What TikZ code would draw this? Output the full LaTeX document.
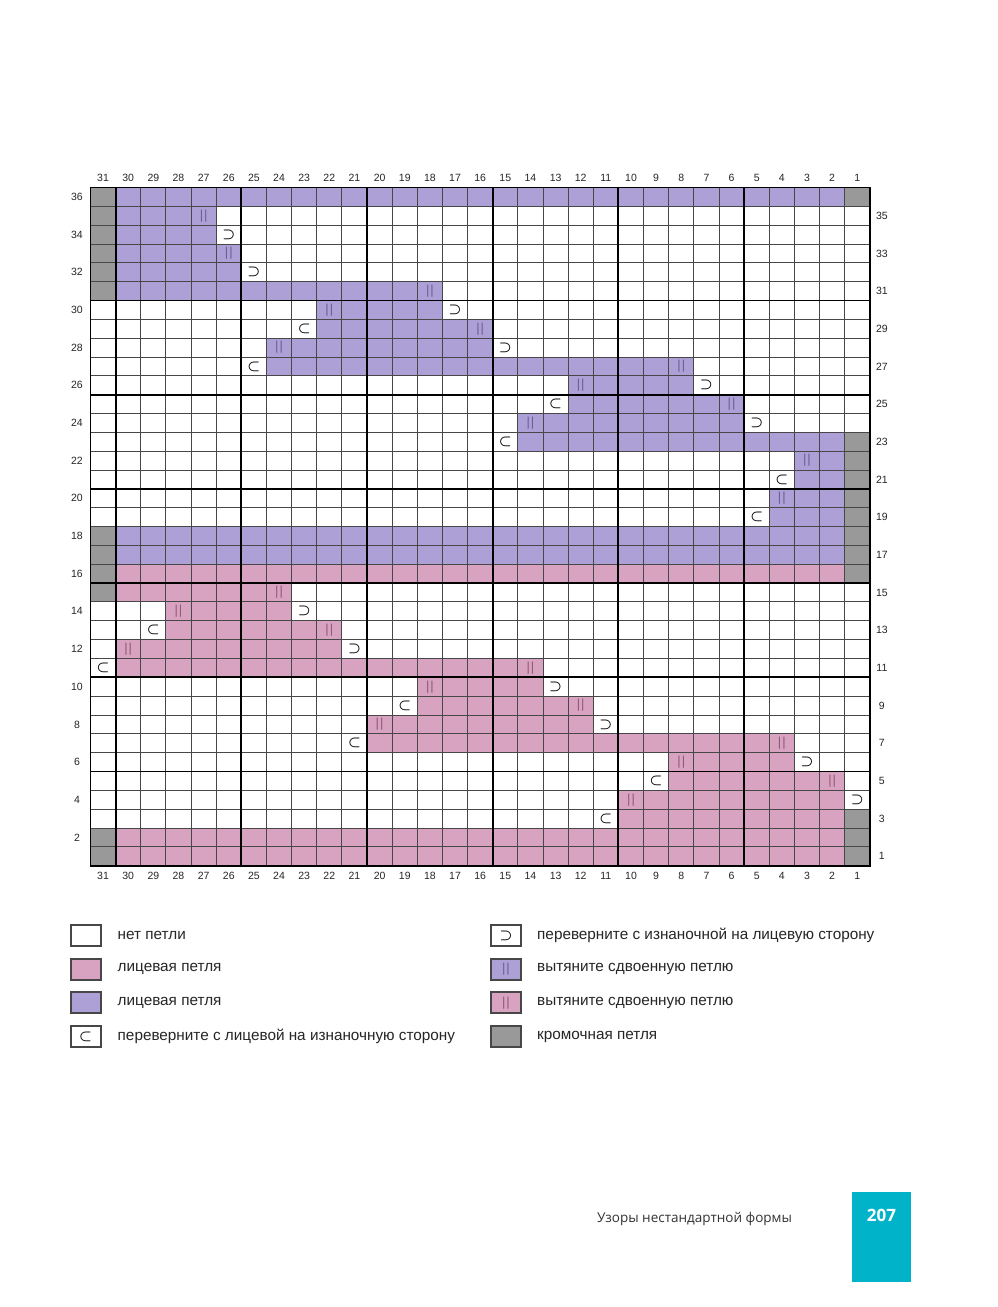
\documentclass[tikz,border=0pt]{standalone}
\usepackage{fontspec}
\usepackage{amsmath}
\setmainfont{Liberation Sans}
\newfontfamily\footfont{Open Sans}
\usetikzlibrary{positioning}

\definecolor{lilac}{RGB}{172,160,214}
\definecolor{lilacdark}{RGB}{108,94,148}
\definecolor{rose}{RGB}{216,163,193}
\definecolor{rosedark}{RGB}{146,88,118}
\definecolor{selvgray}{RGB}{153,153,153}
\definecolor{pageblue}{RGB}{0,179,200}

\newcommand{\turnin}{{\boldmath$\subset$}}
\newcommand{\turnout}{{\boldmath$\supset$}}
\newcommand{\dblbar}{|\kern1pt|}

\tikzset{
  gridnum/.style={font=\fontsize{10.5}{12}\selectfont, text=black!85, inner sep=0pt},
  thinline/.style={draw=black!72, line width=0.9pt},
  thickline/.style={draw=black, line width=1.9pt},
  turn/.style={font=\fontsize{15.5}{15.5}\selectfont, inner sep=0pt},
  dbl/.style={font=\fontsize{13}{13}\selectfont, inner sep=0pt, text=#1},
  keybox/.style={draw=black!72, line width=2pt, minimum width=30pt,
    minimum height=21pt, inner sep=0pt, font=\fontsize{15.5}{15.5}\selectfont},
  keytext/.style={font=\fontsize{15.3}{18}\selectfont, text=black!85, inner sep=0pt},
}

\begin{document}
\begin{tikzpicture}[x=1pt,y=-1pt]
  \useasboundingbox (0,0) rectangle (997,1307);
  \fill[white] (0,0) rectangle (997,1307);

  % chart: column c, row r -> cell ({31-c},r-1) .. ({32-c},r)
  \begin{scope}[shift={(90.5pt,-865.7pt)}, x=25.14pt, y=18.84pt]
    \foreach \r/\a/\b in {36/30/2, 35/30/27, 34/30/27, 33/30/26, 32/30/26,
        31/30/18, 30/22/18, 29/22/16, 28/24/16, 27/24/8, 26/12/8, 25/12/6,
        24/14/6, 23/14/2, 22/3/2, 21/3/2, 20/4/2, 19/4/2, 18/30/2, 17/30/2}
      \fill[lilac] ({31-\a},\r-1) rectangle ({32-\b},\r);
    \foreach \r/\a/\b in {16/30/2, 15/30/24, 14/28/24, 13/28/22, 12/30/22,
        11/30/14, 10/18/14, 9/18/12, 8/20/12, 7/20/4, 6/8/4, 5/8/2,
        4/10/2, 3/10/2, 2/30/2, 1/30/2}
      \fill[rose] ({31-\a},\r-1) rectangle ({32-\b},\r);
    % selvedge stitches
    \fill[selvgray] (0,30) rectangle (1,36) (0,14) rectangle (1,18)
      (0,0) rectangle (1,2) (30,35) rectangle (31,36)
      (30,15) rectangle (31,23) (30,0) rectangle (31,3);

    \foreach \i in {0,...,31} \draw[thinline] (\i,0) -- (\i,36);
    \foreach \j in {0,...,36} \draw[thinline] (0,\j) -- (31,\j);
    \foreach \i in {1,6,...,26} \draw[thickline] (\i,0) -- (\i,36);
    \foreach \j in {5,10,...,30} \draw[thickline] (0,\j) -- (31,\j);
    \draw[thickline] (0,0) rectangle (31,36);

    % stitch symbols
    \foreach \c/\r in {27/35, 26/33, 18/31, 22/30, 16/29, 24/28, 8/27,
        12/26, 6/25, 14/24, 3/22, 4/20}
      \node[dbl=lilacdark] (dl\c-\r) at ({31.5-\c},\r-0.5) {\dblbar};
    \foreach \c/\r in {24/15, 28/14, 22/13, 30/12, 14/11, 18/10, 12/9,
        20/8, 4/7, 8/6, 2/5, 10/4}
      \node[dbl=rosedark] (dr\c-\r) at ({31.5-\c},\r-0.5) {\dblbar};
    \foreach \c/\r in {26/34, 25/32, 17/30, 15/28, 7/26, 5/24, 23/14,
        21/12, 13/10, 11/8, 3/6, 1/4}
      \node[turn] (to\c-\r) at ({31.5-\c},\r-0.5) {\turnout};
    \foreach \c/\r in {23/29, 25/27, 13/25, 15/23, 4/21, 5/19, 29/13,
        31/11, 19/9, 21/7, 9/5, 11/3}
      \node[turn] (ti\c-\r) at ({31.5-\c},\r-0.5) {\turnin};

    % numbering
    \foreach \c in {1,...,31} {
      \node[gridnum] (top\c) at ({31.5-\c},36.49) {\c};
      \node[gridnum] (bot\c) at ({31.5-\c},-0.53) {\c};
    }
    \foreach \r in {2,4,...,36}
      \node[gridnum] (lrow\r) at (-0.54,\r-0.5) {\r};
    \foreach \r in {1,3,...,35}
      \node[gridnum] (rrow\r) at (31.48,\r-0.5) {\r};
  \end{scope}

  % key
  \node[keybox] (knone) at (85.5,935.5) {};
  \node[keybox, fill=rose, below=10.7pt of knone] (kpink) {};
  \node[keybox, fill=lilac, below=10.7pt of kpink] (klilac) {};
  \node[keybox, below=10.7pt of klilac] (kin) {\turnin};
  \node[keybox] (kout) at (506,935.5) {\turnout};
  \node[keybox, fill=lilac, below=10.7pt of kout] (kdbll) {\textcolor{lilacdark}{\fontsize{13}{13}\selectfont\dblbar}};
  \node[keybox, fill=rose, below=10.7pt of kdbll] (kdblr) {\textcolor{rosedark}{\fontsize{13}{13}\selectfont\dblbar}};
  \node[keybox, fill=selvgray, below=10.7pt of kdblr] (kselv) {};

  \node[keytext, right=16pt of knone] (tnone) {нет петли};
  \node[keytext, right=16pt of kpink] (tpink) {лицевая петля};
  \node[keytext, right=16pt of klilac] (tlilac) {лицевая петля};
  \node[keytext, right=16pt of kin] (tin) {переверните с лицевой на изнаночную сторону};
  \node[keytext, right=15pt of kout] (tout) {переверните с изнаночной на лицевую сторону};
  \node[keytext, right=15pt of kdbll] (tdbll) {вытяните сдвоенную петлю};
  \node[keytext, right=15pt of kdblr] (tdblr) {вытяните сдвоенную петлю};
  \node[keytext, right=15pt of kselv] (tselv) {кромочная петля};

  % page footer
  \node[fill=pageblue, minimum width=59pt, minimum height=90pt, inner sep=0pt,
    anchor=north west] (pagebox) at (852,1192) {};
  \node[text=white, font=\footfont\bfseries\fontsize{17}{20}\selectfont] (pageno) at (881.5,1215) {207};
  \node[text=black!80, font=\footfont\fontsize{13.5}{16}\selectfont] (foot) at (694.5,1219) {Узоры нестандартной формы};
\end{tikzpicture}
\end{document}
